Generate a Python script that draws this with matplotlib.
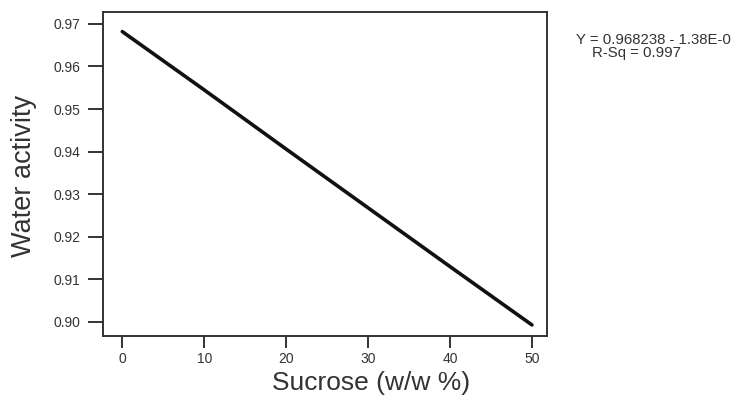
import matplotlib.pyplot as plt

plt.rcParams['font.family'] = ['Liberation Sans', 'DejaVu Sans']

# Fitted line
sucrose = [0, 10, 20, 30, 40, 50]
water_activity = [0.9682, 0.9545, 0.9406, 0.9268, 0.9130, 0.8993]

x_ticks = [0, 10, 20, 30, 40, 50]
y_ticks = [0.90, 0.91, 0.92, 0.93, 0.94, 0.95, 0.96, 0.97]

fig = plt.figure(figsize=(7.37, 4.0), dpi=100)
fig.patch.set_facecolor('white')
ax = fig.add_axes([0.1398, 0.16, 0.602, 0.81])

ax.plot(sucrose, water_activity, color='#111111', linewidth=2.6, solid_capstyle='round')

ax.set_xlim(-2.35, 51.8)
ax.set_ylim(0.8967, 0.9728)
ax.set_xticks(x_ticks)
ax.set_yticks(y_ticks)
ax.set_yticklabels(['%.2f' % v for v in y_ticks])

for s in ax.spines.values():
    s.set_linewidth(1.4)
    s.set_color('#333333')

ax.tick_params(direction='out', width=1.4, color='#333333',
               labelsize=10, labelcolor='#333333')
ax.tick_params(axis='x', length=8.5, pad=3)
ax.tick_params(axis='y', length=10.5, pad=6)

fig.text(0.032, 0.56, 'Water activity', rotation=90, ha='center', va='center',
         fontsize=19.5, color='#333333')
fig.text(0.503, 0.042, 'Sucrose (w/w %)', ha='center', va='center',
         fontsize=19, color='#333333')

fig.text(0.781, 0.9, 'Y = 0.968238 - 1.38E-0', ha='left', va='center',
         fontsize=10.8, color='#333333')
fig.text(0.803, 0.868, 'R-Sq = 0.997', ha='left', va='center',
         fontsize=10.8, color='#333333')

fig.savefig('out.png', dpi=100, facecolor='white')
